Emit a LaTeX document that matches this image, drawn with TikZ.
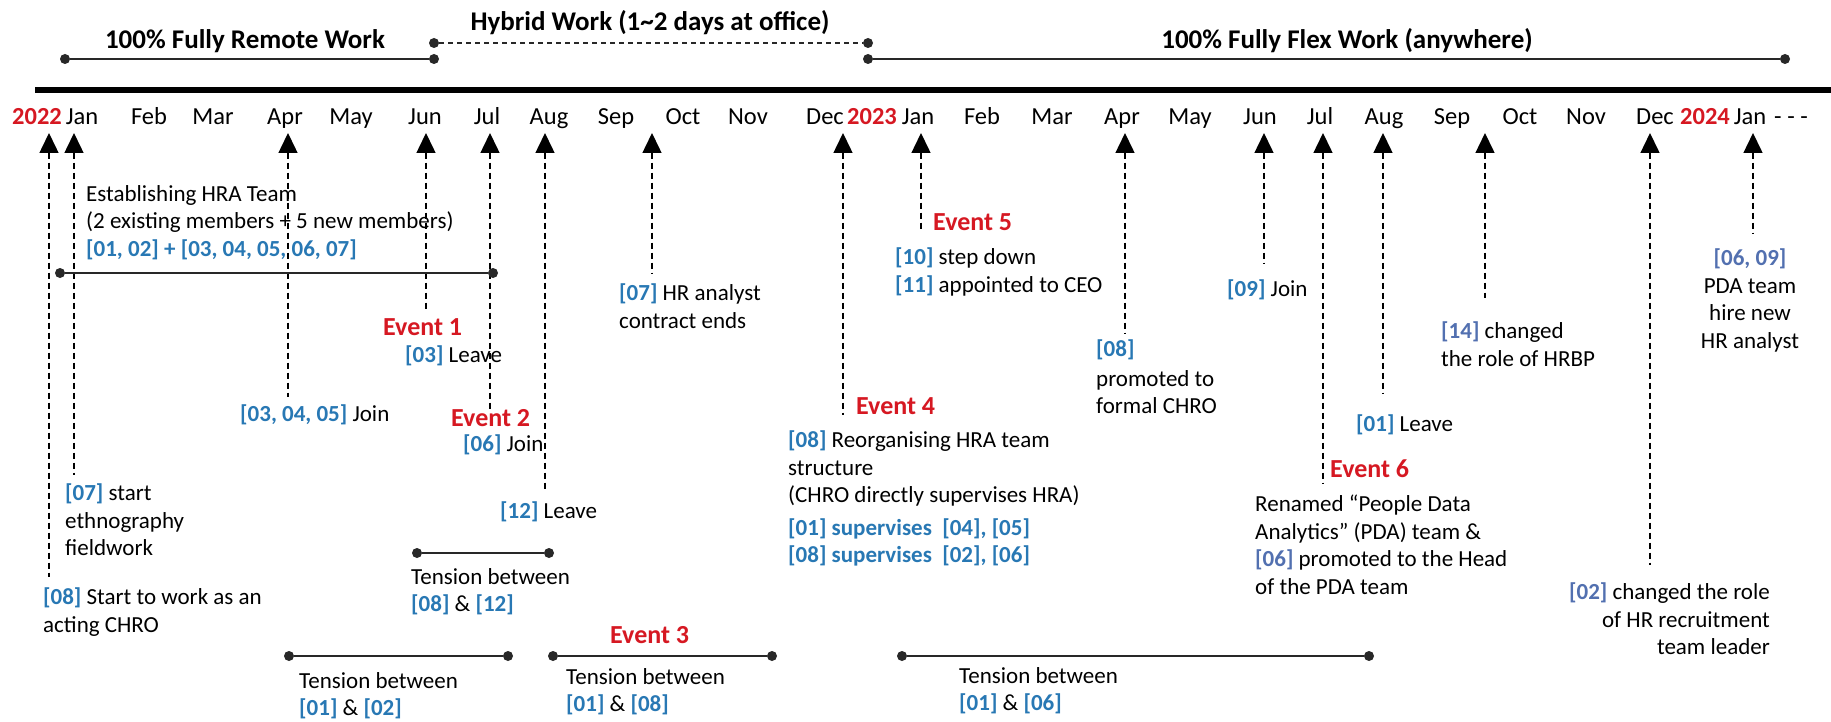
\documentclass[tikz,border=0pt]{standalone}
\usepackage{fontspec}
\setmainfont{Carlito}
\usetikzlibrary{arrows.meta}
\definecolor{myred}{RGB}{214,24,34}
\definecolor{bluA}{RGB}{40,120,180}
\definecolor{bluB}{RGB}{82,112,176}
\definecolor{lineC}{RGB}{40,40,40}
\newcommand\bid[1]{\textcolor{bluA}{\bfseries[#1]}}
\newcommand\bidB[1]{\textcolor{bluB}{\bfseries[#1]}}
\begin{document}
\begin{tikzpicture}[x=1pt,y=-1pt,
  txt/.style={inner sep=0pt,align=left,font=\fontsize{23}{27.5}\selectfont},
  hdr/.style={inner sep=0pt,anchor=base,font=\bfseries\fontsize{27}{32}\selectfont},
  evt/.style={inner sep=0pt,anchor=north west,font=\bfseries\fontsize{26}{30}\selectfont,text=myred},
  mon/.style={inner sep=0pt,anchor=base,font=\fontsize{24.5}{28}\selectfont},
  yr/.style={mon,font=\bfseries\fontsize{24.5}{28}\selectfont,text=myred},
  dot/.style={circle,fill=lineC,inner sep=0pt,minimum size=10pt},
  span/.style={draw=lineC,line width=1.8pt},
  ptr/.style={draw=black,line width=1.5pt,dash pattern=on 6pt off 4pt,{Triangle[width=19pt,length=20pt]}-},
]
\useasboundingbox (0,0) rectangle (1831,722);
\fill[white] (0,0) rectangle (1831,722);

% ---- work mode headers ----
\node[hdr] (hremote) at (245,49) {100\% Fully Remote Work};
\node[hdr] (hhybrid) at (650,31) {Hybrid Work (1\textasciitilde2 days at office)};
\node[hdr] (hflex) at (1347,49) {100\% Fully Flex Work (anywhere)};
\node[dot] (r1) at (65,59) {};
\node[dot] (r2) at (434,59) {};
\node[dot] (h1) at (434,43) {};
\node[dot] (h2) at (868,43) {};
\node[dot] (f1) at (868,59) {};
\node[dot] (f2) at (1785,59) {};
\draw[span] (r1) -- (r2);
\draw[draw=lineC,line width=1.5pt,dash pattern=on 5pt off 4pt] (h1) -- (h2);
\draw[span] (f1) -- (f2);

% ---- time axis ----
\coordinate (ax1) at (35,90);
\coordinate (ax2) at (1831,90);
\draw[line width=6pt] (ax1) -- (ax2);

\node[yr] (y22) at (37,125) {2022};
\node[mon] (m1) at (82,125) {Jan};
\node[mon] (m2) at (149,125) {Feb};
\node[mon] (m3) at (213,125) {Mar};
\node[mon] (m4) at (285,125) {Apr};
\node[mon] (m5) at (351,125) {May};
\node[mon] (m6) at (425,125) {Jun};
\node[mon] (m7) at (487,125) {Jul};
\node[mon] (m8) at (549,125) {Aug};
\node[mon] (m9) at (616,125) {Sep};
\node[mon] (m10) at (683,125) {Oct};
\node[mon] (m11) at (748,125) {Nov};
\node[mon] (m12) at (825,125) {Dec};
\node[yr] (y23) at (872,125) {2023};
\node[mon] (n1) at (918,125) {Jan};
\node[mon] (n2) at (982,125) {Feb};
\node[mon] (n3) at (1052,125) {Mar};
\node[mon] (n4) at (1122,125) {Apr};
\node[mon] (n5) at (1190,125) {May};
\node[mon] (n6) at (1260,125) {Jun};
\node[mon] (n7) at (1320,125) {Jul};
\node[mon] (n8) at (1384,125) {Aug};
\node[mon] (n9) at (1452,125) {Sep};
\node[mon] (n10) at (1520,125) {Oct};
\node[mon] (n11) at (1586,125) {Nov};
\node[mon] (n12) at (1655,125) {Dec};
\node[yr] (y24) at (1705,125) {2024};
\node[mon] (k1) at (1750,125) {Jan};
\node[mon] (kd) at (1791,125) {- - -};

% ---- pointers ----
\foreach \n/\x/\yb in {1/49/577, 2/74/475, 3/288/397, 4/426/312, 5/490/410,
  6/545/490, 7/652/273, 8/843/415, 9/921/230, 10/1125/333, 11/1264/263,
  12/1323/483, 13/1383/393, 14/1485/298, 15/1650/565, 16/1753/233}{
  \coordinate (p\n t) at (\x,133);
  \coordinate (p\n b) at (\x,\yb);
  \draw[ptr] (p\n t) -- (p\n b);
}

% ---- HRA team ----
\node[txt,anchor=north west] (estab) at (86,185) {Establishing HRA Team\\(2 existing members + 5 new members)\\\textcolor{bluA}{\bfseries[01, 02] + [03, 04, 05, 06, 07]}};
\node[dot] (e1) at (60,273) {};
\node[dot] (e2) at (493,273) {};
\draw[span] (e1) -- (e2);

% ---- 2022 events ----
\node[txt,anchor=north west] (eth07) at (65,484) {\bid{07} start\\ethnography\\fieldwork};
\node[txt,anchor=north west] (chro08) at (43,588) {\bid{08} Start to work as an\\acting CHRO};
\node[txt,anchor=north west] (join345) at (240,405) {\bid{03, 04, 05} Join};
\node[evt] (ev1) at (383,318.5) {Event 1};
\node[txt,anchor=north west] (leave03) at (405,346) {\bid{03} Leave};
\node[evt] (ev2) at (451,409.5) {Event 2};
\node[txt,anchor=north west] (join06) at (463,435) {\bid{06} Join};
\node[txt,anchor=north west] (leave12) at (500,502) {\bid{12} Leave};
\node[txt,anchor=north west] (hr07) at (619,284) {\bid{07} HR analyst\\contract ends};

% ---- tensions ----
\node[dot] (a1) at (417,553) {};
\node[dot] (a2) at (549,553) {};
\draw[span] (a1) -- (a2);
\node[txt,anchor=north west] (ten0812) at (411,568) {Tension between\\\bid{08} \& \bid{12}};
\node[dot] (b1) at (289,656) {};
\node[dot] (b2) at (508,656) {};
\draw[span] (b1) -- (b2);
\node[txt,anchor=north west] (ten0102) at (299,672) {Tension between\\\bid{01} \& \bid{02}};
\node[evt] (ev3) at (610,626.5) {Event 3};
\node[dot] (c1) at (553,656) {};
\node[dot] (c2) at (772,656) {};
\draw[span] (c1) -- (c2);
\node[txt,anchor=north west] (ten0108) at (566,668) {Tension between\\\bid{01} \& \bid{08}};
\node[dot] (d1) at (902,656) {};
\node[dot] (d2) at (1369,656) {};
\draw[span] (d1) -- (d2);
\node[txt,anchor=north west] (ten0106) at (959,667) {Tension between\\\bid{01} \& \bid{06}};

% ---- 2023 events ----
\node[evt] (ev4) at (856,397.5) {Event 4};
\node[txt,anchor=north west] (reorg) at (788,431) {\bid{08} Reorganising HRA team\\structure\\(CHRO directly supervises HRA)\\[5pt]\textcolor{bluA}{\bfseries[01] supervises\ \ [04], [05]}\\\textcolor{bluA}{\bfseries[08] supervises\ \ [02], [06]}};
\node[evt] (ev5) at (933,213.5) {Event 5};
\node[txt,anchor=north west] (step) at (895,248) {\bid{10} step down\\\bid{11} appointed to CEO};
\node[txt,anchor=north west] (prom08) at (1096,340) {\bid{08}\\[2pt]promoted to\\formal CHRO};
\node[txt,anchor=north west] (join09) at (1227,280) {\bid{09} Join};
\node[txt,anchor=north west] (leave01) at (1356,415) {\bid{01} Leave};
\node[evt] (ev6) at (1330,459.5) {Event 6};
\node[txt,anchor=north west] (renamed) at (1255,495) {Renamed “People Data\\Analytics” (PDA) team \&\\\bidB{06} promoted to the Head\\of the PDA team};
\node[txt,anchor=north west] (hrbp) at (1441,322) {\bidB{14} changed\\the role of HRBP};
\node[txt,anchor=north east,align=right] (rec02) at (1770,583) {\bidB{02} changed the role\\of HR recruitment\\team leader};
\node[txt,anchor=north,align=center] (pda) at (1750,249) {\bidB{06, 09}\\PDA team\\hire new\\HR analyst};
\end{tikzpicture}
\end{document}
